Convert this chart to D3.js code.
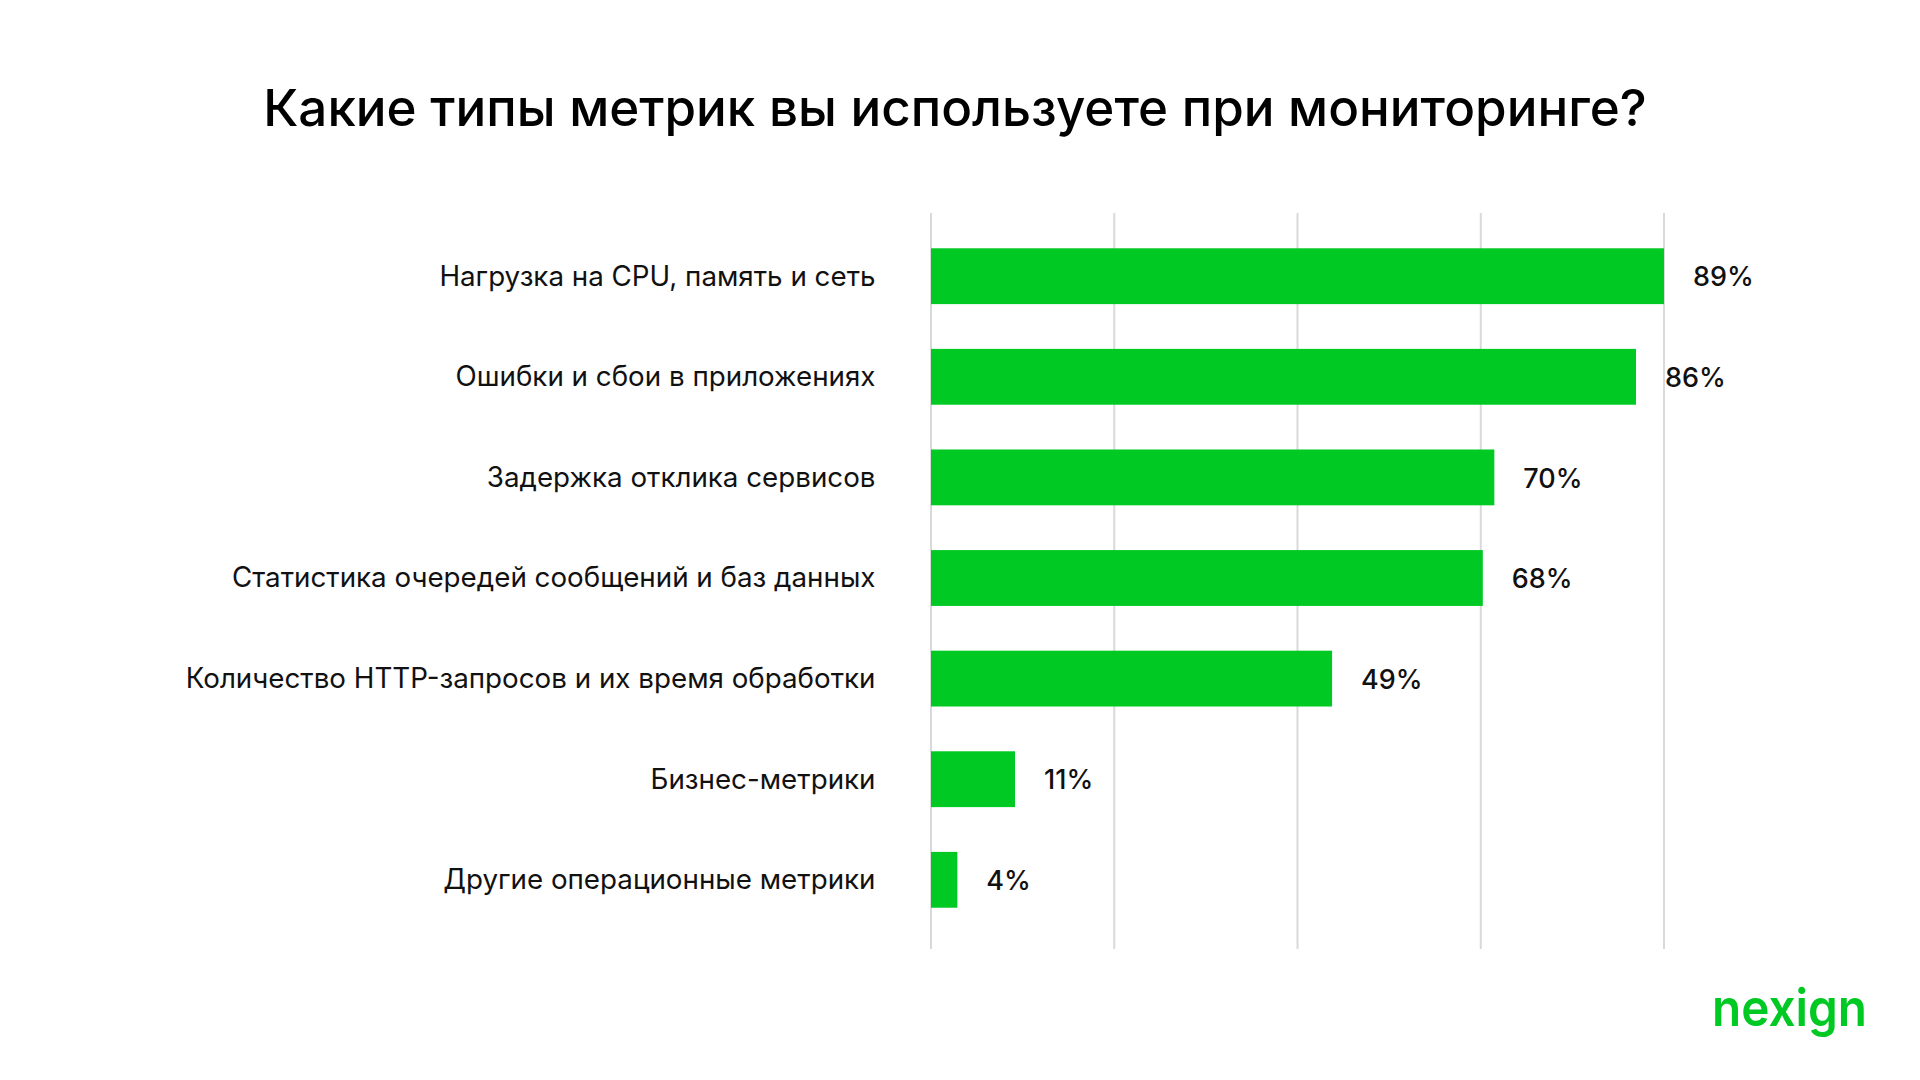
<!DOCTYPE html>
<html>
<head>
<meta charset="utf-8">
<script src="https://cdn.jsdelivr.net/npm/d3@7"></script>
<style>
  html, body { margin: 0; padding: 0; background: #fff; }
  svg { display: block; }
  text { font-family: Inter, "Noto Sans", sans-serif; }
</style>
</head>
<body>
<svg id="chart" width="1920" height="1080"></svg>
<script>
'use strict';

/* Data */
var title = 'Какие типы метрик вы используете при мониторинге?';
var categories = [
    'Нагрузка на CPU, память и сеть',
    'Ошибки и сбои в приложениях',
    'Задержка отклика сервисов',
    'Статистика очередей сообщений и баз данных',
    'Количество HTTP-запросов и их время обработки',
    'Бизнес-метрики',
    'Другие операционные метрики'
];
// bar lengths (labels are rounded)
var values = [89, 85.6, 68.4, 67, 48.7, 10.2, 3.2];
var valueLabels = ['89%', '86%', '70%', '68%', '49%', '11%', '4%'];
var gridCount = 4;

var green = '#00c924';

var svg = d3.select('#chart');

var xMax = d3.max(values);
var x = d3.scaleLinear()
    .domain([0, xMax])
    .range([931, 1664]);

var y = d3.scaleBand()
    .domain(categories)
    .range([225.9, 930.1])
    .paddingInner(0.445)
    .paddingOuter(0.2225);

// grid
var gridValues = d3.range(gridCount + 1).map(function (i) { return xMax * i / gridCount; });
svg.append('g')
    .selectAll('line')
    .data(gridValues)
    .join('line')
    .attr('x1', function (d) { return x(d); })
    .attr('x2', function (d) { return x(d); })
    .attr('y1', 213)
    .attr('y2', 949)
    .attr('stroke', '#d9d9d9')
    .attr('stroke-width', 2);

// bars
svg.append('g')
    .selectAll('rect')
    .data(values)
    .join('rect')
    .attr('x', x(0))
    .attr('y', function (d, i) { return y(categories[i]); })
    .attr('width', function (d) { return x(d) - x(0); })
    .attr('height', y.bandwidth())
    .attr('fill', green);

// category labels
var cats = svg.append('g')
    .selectAll('text')
    .data(categories)
    .join('text')
    .attr('x', 875.5)
    .attr('y', function (d) { return y(d) + y.bandwidth() / 2; })
    .attr('dy', '0.34em')
    .attr('text-anchor', 'end')
    .attr('font-size', 26)
    .attr('fill', '#111')
    .text(function (d) { return d; });

// scale all labels from the longest one
var longest = cats.filter(function (d, i) { return i === 4; });
var s0 = parseFloat(longest.attr('font-size'));
var w0 = longest.node().getComputedTextLength();
cats.attr('font-size', (s0 * 690 / w0).toFixed(2));

// value labels
svg.append('g')
    .selectAll('text')
    .data(values)
    .join('text')
    .attr('x', function (d) { return x(d) + 29; })
    .attr('y', function (d, i) { return y(categories[i]) + y.bandwidth() / 2; })
    .attr('dy', '0.38em')
    .attr('font-size', 27)
    .attr('font-weight', 500)
    .attr('fill', '#111')
    .text(function (d, i) { return valueLabels[i]; });

// title
var t = svg.append('text')
    .attr('x', 955)
    .attr('y', 126)
    .attr('text-anchor', 'middle')
    .attr('font-size', 46)
    .attr('font-weight', 500)
    .attr('fill', '#000')
    .text(title);
var ts = parseFloat(t.attr('font-size'));
t.attr('font-size', (ts * 1384 / t.node().getComputedTextLength()).toFixed(2));

// logo
svg.append('text')
    .attr('x', 1712)
    .attr('y', 1026)
    .attr('font-size', 52)
    .attr('font-weight', 600)
    .attr('fill', green)
    .attr('textLength', 155)
    .attr('lengthAdjust', 'spacingAndGlyphs')
    .text('nexign');
</script>
</body>
</html>
